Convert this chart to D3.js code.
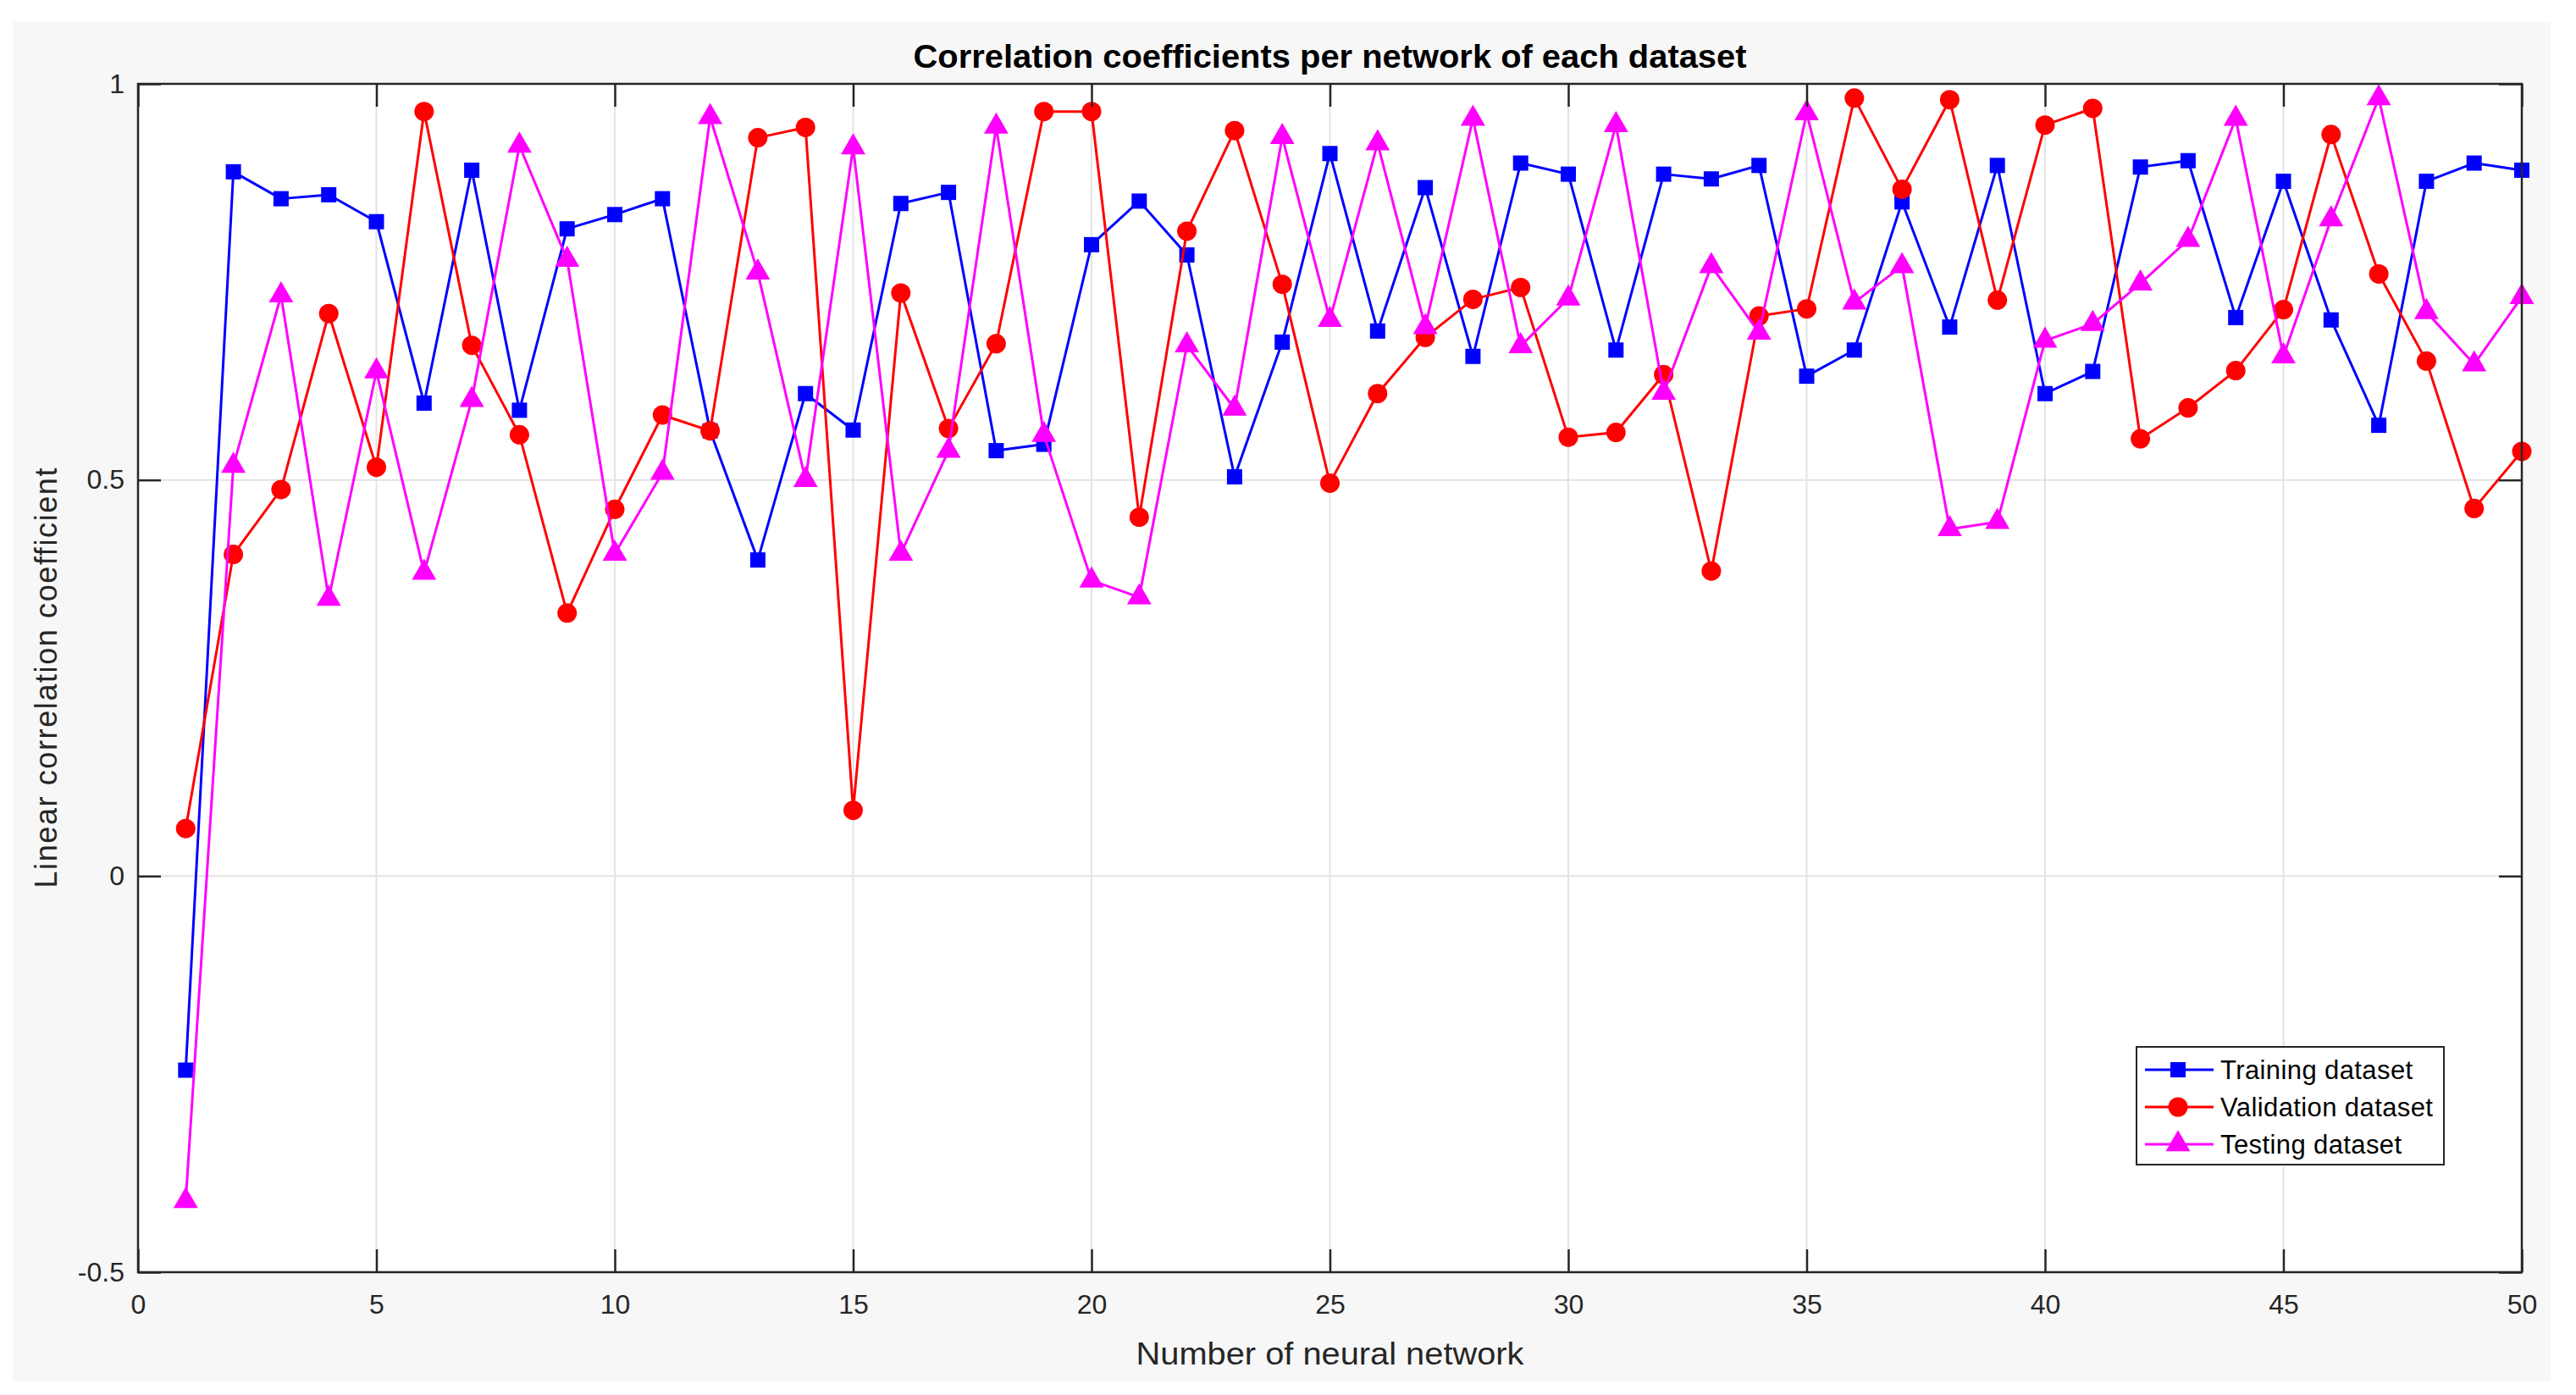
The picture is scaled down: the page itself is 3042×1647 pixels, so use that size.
<!DOCTYPE html>
<html>
<head>
<meta charset="utf-8">
<script src="https://cdn.jsdelivr.net/npm/d3@7"></script>
<style>
  html, body { margin: 0; padding: 0; background: #ffffff; }
  svg { display: block; }
</style>
</head>
<body>
<div id="chart"></div>
<script>
// data
const networks = d3.range(1, 51);

const training = [-0.245, 0.889, 0.855, 0.860, 0.826, 0.597, 0.891, 0.588, 0.817, 0.835,
  0.855, 0.562, 0.399, 0.609, 0.563, 0.849, 0.863, 0.537, 0.545, 0.797,
  0.852, 0.784, 0.504, 0.674, 0.912, 0.688, 0.869, 0.656, 0.900, 0.886,
  0.664, 0.886, 0.880, 0.897, 0.631, 0.664, 0.851, 0.693, 0.897, 0.609,
  0.637, 0.895, 0.903, 0.705, 0.877, 0.702, 0.569, 0.877, 0.900, 0.891];

const validation = [0.06, 0.406, 0.488, 0.710, 0.516, 0.965, 0.670, 0.557, 0.332, 0.463,
  0.582, 0.562, 0.932, 0.945, 0.083, 0.736, 0.565, 0.672, 0.965, 0.965,
  0.453, 0.814, 0.941, 0.747, 0.496, 0.609, 0.680, 0.728, 0.743, 0.554,
  0.560, 0.633, 0.385, 0.707, 0.716, 0.982, 0.867, 0.980, 0.727, 0.948,
  0.969, 0.552, 0.591, 0.638, 0.715, 0.936, 0.760, 0.650, 0.464, 0.536];

const testing = [-0.41, 0.518, 0.733, 0.350, 0.637, 0.383, 0.601, 0.922, 0.778, 0.407,
  0.509, 0.958, 0.762, 0.500, 0.920, 0.407, 0.537, 0.946, 0.557, 0.373,
  0.352, 0.670, 0.590, 0.933, 0.702, 0.925, 0.693, 0.956, 0.669, 0.729,
  0.948, 0.610, 0.770, 0.686, 0.963, 0.724, 0.770, 0.438, 0.447, 0.676,
  0.697, 0.748, 0.803, 0.956, 0.656, 0.829, 0.982, 0.712, 0.646, 0.731];

const seriesNames = ["Training dataset", "Validation dataset", "Testing dataset"];
const xTicks = [0, 5, 10, 15, 20, 25, 30, 35, 40, 45, 50];
const yTicks = [-0.5, 0, 0.5, 1];
const yTickLabels = ["-0.5", "0", "0.5", "1"];

const series = [
  { name: seriesNames[0], values: training, color: "#0000ff", symbol: d3.symbolSquare, size: 324 },
  { name: seriesNames[1], values: validation, color: "#ff0000", symbol: d3.symbolCircle, size: 415 },
  { name: seriesNames[2], values: testing, color: "#ff00ff", symbol: d3.symbolTriangle, size: 361 },
];

const width = 3042;
const height = 1647;
const plot = { left: 163, right: 2978, top: 99, bottom: 1502 };
const font = "'Liberation Sans', Arial, Helvetica, sans-serif";
const axisColor = "#262626";

const svg = d3.select("#chart")
  .append("svg")
  .attr("width", width)
  .attr("height", height);

// figure background (MATLAB grey)
svg.append("rect")
  .attr("x", 15).attr("y", 26)
  .attr("width", 2997).attr("height", 1605)
  .attr("fill", "#f7f7f7");

// axes background
svg.append("rect")
  .attr("x", plot.left).attr("y", plot.top)
  .attr("width", plot.right - plot.left).attr("height", plot.bottom - plot.top)
  .attr("fill", "#ffffff");

const x = d3.scaleLinear().domain([0, 50]).range([plot.left, plot.right]);
const y = d3.scaleLinear().domain([-0.5, 1]).range([plot.bottom, plot.top]);

// grid
const grid = svg.append("g").attr("stroke", "#e3e3e3").attr("stroke-width", 2);
grid.selectAll("line.gx")
  .data(xTicks.slice(1, -1))
  .join("line")
  .attr("x1", (d) => x(d)).attr("x2", (d) => x(d))
  .attr("y1", plot.top).attr("y2", plot.bottom);
grid.selectAll("line.gy")
  .data(yTicks.slice(1, -1))
  .join("line")
  .attr("y1", (d) => y(d)).attr("y2", (d) => y(d))
  .attr("x1", plot.left).attr("x2", plot.right);

// series lines and markers
const line = d3.line()
  .x((d, i) => x(networks[i]))
  .y((d) => y(d));

series.forEach((s) => {
  svg.append("path")
    .datum(s.values)
    .attr("fill", "none")
    .attr("stroke", s.color)
    .attr("stroke-width", 3)
    .attr("stroke-linejoin", "round")
    .attr("d", line);

  svg.append("g")
    .selectAll("path")
    .data(s.values)
    .join("path")
    .attr("transform", (d, i) => `translate(${x(networks[i])},${y(d)})`)
    .attr("d", d3.symbol().type(s.symbol).size(s.size))
    .attr("fill", s.color);
});

// axes with inward ticks
function styleAxis(g) {
  g.select(".domain").remove();
  g.selectAll(".tick line").attr("stroke", axisColor).attr("stroke-width", 2.5);
  g.selectAll(".tick text")
    .attr("fill", axisColor)
    .style("font-family", font)
    .style("font-size", "32px");
}

svg.append("g")
  .attr("transform", `translate(0,${plot.bottom})`)
  .call(d3.axisBottom(x).tickValues(xTicks).tickFormat(d3.format("d"))
    .tickSizeInner(-27).tickSizeOuter(0).tickPadding(26))
  .call(styleAxis);

svg.append("g")
  .attr("transform", `translate(0,${plot.top})`)
  .call(d3.axisTop(x).tickValues(xTicks).tickFormat("")
    .tickSizeInner(-27).tickSizeOuter(0))
  .call(styleAxis);

svg.append("g")
  .attr("transform", `translate(${plot.left},0)`)
  .call(d3.axisLeft(y).tickValues(yTicks).tickFormat((d, i) => yTickLabels[i])
    .tickSizeInner(-27).tickSizeOuter(0).tickPadding(16))
  .call(styleAxis);

svg.append("g")
  .attr("transform", `translate(${plot.right},0)`)
  .call(d3.axisRight(y).tickValues(yTicks).tickFormat("")
    .tickSizeInner(-27).tickSizeOuter(0))
  .call(styleAxis);

// box
svg.append("rect")
  .attr("x", plot.left).attr("y", plot.top)
  .attr("width", plot.right - plot.left).attr("height", plot.bottom - plot.top)
  .attr("fill", "none")
  .attr("stroke", axisColor)
  .attr("stroke-width", 2.5);

// title
svg.append("text")
  .attr("x", (plot.left + plot.right) / 2)
  .attr("y", 80)
  .attr("text-anchor", "middle")
  .attr("textLength", 984)
  .attr("lengthAdjust", "spacingAndGlyphs")
  .style("font-family", font)
  .style("font-weight", "bold")
  .style("font-size", "38px")
  .attr("fill", "#000000")
  .text("Correlation coefficients per network of each dataset");

// axis labels
svg.append("text")
  .attr("x", (plot.left + plot.right) / 2)
  .attr("y", 1611)
  .attr("text-anchor", "middle")
  .attr("textLength", 458)
  .attr("lengthAdjust", "spacingAndGlyphs")
  .style("font-family", font)
  .style("font-size", "36px")
  .attr("fill", axisColor)
  .text("Number of neural network");

svg.append("text")
  .attr("transform", `translate(67,${(plot.top + plot.bottom) / 2}) rotate(-90)`)
  .attr("text-anchor", "middle")
  .attr("textLength", 496)
  .attr("lengthAdjust", "spacing")
  .style("font-family", font)
  .style("font-size", "36px")
  .attr("fill", axisColor)
  .text("Linear correlation coefficient");

// legend
const legend = svg.append("g").attr("transform", "translate(2523,1236)");
legend.append("rect")
  .attr("width", 363).attr("height", 139)
  .attr("fill", "#ffffff")
  .attr("stroke", axisColor)
  .attr("stroke-width", 2);

const entry = legend.selectAll("g.entry")
  .data(series)
  .join("g")
  .attr("class", "entry")
  .attr("transform", (d, i) => `translate(0,${27 + i * 44})`);

entry.append("line")
  .attr("x1", 10).attr("x2", 91)
  .attr("stroke", (d) => d.color)
  .attr("stroke-width", 3);

entry.append("path")
  .attr("transform", "translate(49,0)")
  .attr("d", (d) => d3.symbol().type(d.symbol).size(d.size)())
  .attr("fill", (d) => d.color);

entry.append("text")
  .attr("x", 99)
  .attr("dy", "0.35em")
  .style("font-family", font)
  .style("font-size", "31px")
  .style("letter-spacing", "0.4px")
  .attr("fill", "#000000")
  .text((d) => d.name);
</script>
</body>
</html>
